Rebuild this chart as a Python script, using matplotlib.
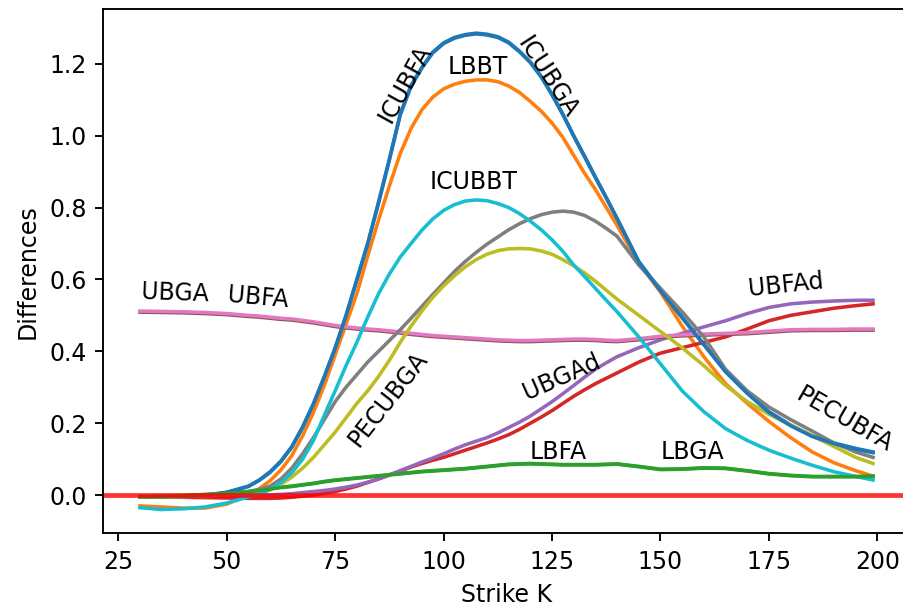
import numpy as np
import matplotlib
matplotlib.use("Agg")
import matplotlib.pyplot as plt

# strike grid (finer where the curves bend)
strikes = ([30, 35, 40, 45, 50, 55]
           + [57.5, 60, 62.5, 65, 67.5, 70, 72.5, 75, 77.5, 80]
           + [82.5, 85, 87.5, 90, 92.5, 95, 97.5, 100, 102.5, 105]
           + [107.5, 110, 112.5, 115, 117.5, 120, 122.5, 125, 127.5, 130]
           + [132.5, 135, 137.5]
           + [140, 145, 150, 155, 160, 165, 170, 175, 180, 185, 190, 195]
           + [199])

icubfa = [-0.005, -0.005, -0.003, 0.0, 0.008, 0.025,
          0.042, 0.065, 0.095, 0.135, 0.19, 0.255, 0.33, 0.41, 0.5, 0.6,
          0.7, 0.815, 0.935, 1.06, 1.14, 1.19, 1.232, 1.258, 1.273, 1.281,
          1.285, 1.282, 1.275, 1.26, 1.235, 1.205, 1.165, 1.115, 1.06, 1.0,
          0.943, 0.885, 0.828,
          0.77, 0.65, 0.57, 0.495, 0.42, 0.345, 0.285, 0.232, 0.195, 0.165, 0.145, 0.13,
          0.12]
icubga = [-0.004, -0.004, -0.003, 0.0, 0.007, 0.024,
          0.041, 0.063, 0.093, 0.133, 0.188, 0.253, 0.328, 0.408, 0.498, 0.598,
          0.698, 0.812, 0.932, 1.057, 1.137, 1.188, 1.23, 1.256, 1.271, 1.279,
          1.283, 1.28, 1.273, 1.258, 1.233, 1.203, 1.163, 1.113, 1.058, 0.998,
          0.941, 0.883, 0.826,
          0.768, 0.648, 0.568, 0.493, 0.418, 0.343, 0.283, 0.23, 0.193, 0.163, 0.143, 0.128,
          0.118]
lbbt = [-0.03, -0.033, -0.036, -0.036, -0.025, 0.0,
        0.018, 0.04, 0.07, 0.11, 0.165, 0.23, 0.305, 0.39, 0.475, 0.56,
        0.665, 0.765, 0.86, 0.95, 1.02, 1.072, 1.107, 1.13, 1.143, 1.151,
        1.155, 1.155, 1.15, 1.138, 1.12, 1.095, 1.068, 1.035, 0.995, 0.945,
        0.895, 0.85, 0.8,
        0.75, 0.645, 0.565, 0.47, 0.385, 0.31, 0.255, 0.205, 0.16, 0.12, 0.09, 0.068,
        0.053]
icubbt = [-0.035, -0.04, -0.038, -0.033, -0.022, -0.005,
          0.003, 0.015, 0.035, 0.062, 0.1, 0.152, 0.222, 0.29, 0.36, 0.425,
          0.495, 0.56, 0.615, 0.662, 0.7, 0.737, 0.768, 0.792, 0.808, 0.818,
          0.821, 0.819, 0.811, 0.8, 0.783, 0.762, 0.738, 0.71, 0.678, 0.64,
          0.608, 0.575, 0.542,
          0.51, 0.44, 0.365, 0.29, 0.232, 0.185, 0.152, 0.125, 0.103, 0.083, 0.065, 0.052,
          0.042]
pecubfa = [-0.005, -0.005, -0.003, 0.0, 0.004, 0.01,
           0.016, 0.025, 0.045, 0.075, 0.115, 0.16, 0.21, 0.26, 0.3, 0.335,
           0.37, 0.4, 0.43, 0.46, 0.492, 0.525, 0.558, 0.59, 0.622, 0.65,
           0.675, 0.698, 0.718, 0.738, 0.755, 0.769, 0.78, 0.787, 0.79, 0.787,
           0.778, 0.762, 0.742,
           0.72, 0.64, 0.575, 0.51, 0.44, 0.35, 0.29, 0.245, 0.21, 0.178, 0.145, 0.12,
           0.105]
pecubga = [-0.005, -0.005, -0.004, -0.002, 0.002, 0.008,
           0.01, 0.015, 0.03, 0.05, 0.075, 0.105, 0.14, 0.175, 0.215, 0.255,
           0.29, 0.33, 0.375, 0.425, 0.47, 0.512, 0.55, 0.582, 0.61, 0.635,
           0.655, 0.67, 0.68, 0.685, 0.686, 0.685, 0.679, 0.67, 0.655, 0.638,
           0.618, 0.595, 0.57,
           0.545, 0.5, 0.455, 0.41, 0.36, 0.305, 0.26, 0.225, 0.195, 0.165, 0.135, 0.105,
           0.088]
ubfad = [-0.005, -0.005, -0.004, -0.002, 0.0, 0.0,
         0.0, 0.0, 0.002, 0.004, 0.007, 0.01, 0.013, 0.017, 0.022, 0.028,
         0.036, 0.045, 0.056, 0.068, 0.08, 0.092, 0.103, 0.115, 0.128, 0.14,
         0.15, 0.16, 0.173, 0.188, 0.203, 0.22, 0.24, 0.26, 0.282, 0.305,
         0.328, 0.35, 0.368,
         0.385, 0.41, 0.432, 0.45, 0.468, 0.485, 0.505, 0.522, 0.532, 0.537, 0.54, 0.542,
         0.542]
ubgad = [-0.005, -0.006, -0.006, -0.007, -0.008, -0.009,
         -0.009, -0.009, -0.008, -0.006, -0.003, 0.0, 0.005, 0.01, 0.017, 0.025,
         0.035, 0.045, 0.056, 0.067, 0.078, 0.088, 0.097, 0.105, 0.115, 0.125,
         0.135, 0.145, 0.156, 0.168, 0.183, 0.2, 0.217, 0.235, 0.255, 0.275,
         0.293, 0.31, 0.325,
         0.34, 0.37, 0.395, 0.41, 0.425, 0.44, 0.462, 0.485, 0.5, 0.51, 0.52, 0.527,
         0.532]
ubga = [0.512, 0.511, 0.51, 0.508, 0.505, 0.5,
        0.498, 0.495, 0.492, 0.49, 0.486, 0.482, 0.477, 0.472, 0.468, 0.465,
        0.462, 0.46, 0.457, 0.454, 0.45, 0.447, 0.444, 0.442, 0.44, 0.438,
        0.436, 0.434, 0.432, 0.431, 0.43, 0.43, 0.431, 0.432, 0.433, 0.434,
        0.434, 0.433, 0.431,
        0.43, 0.435, 0.442, 0.446, 0.448, 0.45, 0.452, 0.456, 0.46, 0.461, 0.461, 0.462,
        0.462]
ubfa = [0.509, 0.508, 0.507, 0.505, 0.502, 0.497,
        0.495, 0.492, 0.489, 0.487, 0.483, 0.479, 0.474, 0.469, 0.465, 0.462,
        0.459, 0.457, 0.454, 0.451, 0.447, 0.444, 0.441, 0.439, 0.437, 0.435,
        0.433, 0.431, 0.429, 0.428, 0.427, 0.427, 0.428, 0.429, 0.43, 0.431,
        0.431, 0.43, 0.428,
        0.427, 0.432, 0.439, 0.443, 0.445, 0.447, 0.449, 0.453, 0.457, 0.458, 0.458, 0.459,
        0.459]
lbfa = [-0.004, -0.003, -0.001, 0.002, 0.005, 0.01,
        0.014, 0.018, 0.022, 0.025, 0.029, 0.033, 0.038, 0.042, 0.045, 0.048,
        0.051, 0.054, 0.057, 0.06, 0.063, 0.066, 0.068, 0.07, 0.072, 0.074,
        0.077, 0.08, 0.083, 0.086, 0.087, 0.088, 0.087, 0.086, 0.085, 0.085,
        0.085, 0.085, 0.086,
        0.087, 0.08, 0.072, 0.073, 0.076, 0.075, 0.068, 0.06, 0.055, 0.052, 0.052, 0.052,
        0.053]
lbga = [-0.005, -0.004, -0.002, 0.001, 0.004, 0.009,
        0.013, 0.017, 0.021, 0.024, 0.028, 0.032, 0.037, 0.041, 0.044, 0.047,
        0.05, 0.053, 0.056, 0.059, 0.062, 0.065, 0.067, 0.069, 0.071, 0.073,
        0.076, 0.079, 0.082, 0.085, 0.086, 0.087, 0.086, 0.085, 0.084, 0.084,
        0.084, 0.084, 0.085,
        0.086, 0.079, 0.071, 0.072, 0.075, 0.074, 0.067, 0.059, 0.054, 0.051, 0.051, 0.051,
        0.052]

series = [
    ("ICUBFA", icubfa, "tab:blue"),
    ("LBBT", lbbt, "tab:orange"),
    ("LBFA", lbfa, "tab:green"),
    ("UBGAd", ubgad, "tab:red"),
    ("UBFAd", ubfad, "tab:purple"),
    ("UBFA", ubfa, "tab:brown"),
    ("UBGA", ubga, "tab:pink"),
    ("PECUBFA", pecubfa, "tab:gray"),
    ("PECUBGA", pecubga, "tab:olive"),
    ("ICUBBT", icubbt, "tab:cyan"),
    ("ICUBGA", icubga, "tab:blue"),
    ("LBGA", lbga, "tab:green"),
]

# inline label placement: (name, x, y, rotation)
labels = [
    ("ICUBFA", 91.2, 1.144, 61),
    ("LBBT", 107.8, 1.19, 0),
    ("ICUBGA", 124.0, 1.162, -57),
    ("ICUBBT", 107.0, 0.87, 0),
    ("UBGA", 38.1, 0.563, -2),
    ("UBFA", 57.3, 0.549, -5),
    ("PECUBGA", 87.2, 0.268, 52),
    ("UBGAd", 127.3, 0.329, 24),
    ("UBFAd", 178.9, 0.583, 6),
    ("LBFA", 126.5, 0.12, 0),
    ("LBGA", 157.3, 0.12, 0),
    ("PECUBFA", 192.3, 0.211, -30),
]

fig = plt.figure(figsize=(903 / 170, 610 / 170), dpi=170)
ax = fig.add_axes([0.1144, 0.1257, 0.893, 0.859])

for name, vals, color in series:
    ax.plot(strikes, vals, color=color, linewidth=1.5, label=name)

ax.axhline(0, color="red", alpha=0.8, linewidth=2)

for name, x, y, rot in labels:
    ax.text(x, y, name, rotation=rot, ha="center", va="center",
            rotation_mode="anchor", fontsize=10)

ax.set_xlabel("Strike K")
ax.set_ylabel("Differences")

fig.savefig("out.png", dpi=170)
